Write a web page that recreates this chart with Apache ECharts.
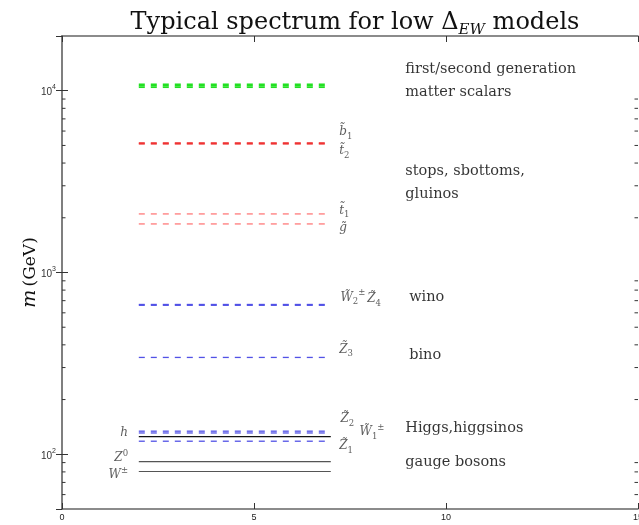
<!DOCTYPE html>
<html><head><meta charset="utf-8">
<script src="https://cdn.jsdelivr.net/npm/echarts@6/dist/echarts.min.js"></script>
<style>html,body{margin:0;padding:0;background:#fff}#c{width:639px;height:525px}</style>
</head><body><div id="c"></div>
<script>
// ---- data ----
const levelStart = 2, levelEnd = 7;
const greenLevels = [10450, 10650, 10850];      // first/second generation scalars
const redLevels = [5100, 5160];                  // b1, t2
const pinkLevels = [2100, 1850];                 // t1, gluino
const blueLevels = [667, 660, 341, 134, 131, 118]; // W2/Z4, Z3, Z2, W1, Z1
const higgsLevels = [125];                       // h
const gaugeLevels = [91.2, 80.4];                // Z0, W
const xTicks = [0, 5, 10, 15];
const yMajorTicks = [100, 1000, 10000];
const yMinorTicks = [60, 70, 80, 90, 200, 300, 400, 500, 600, 700, 800, 900,
  2000, 3000, 4000, 5000, 6000, 7000, 8000, 9000];
const particleLabels = [
  [7.22, 5940, '{i|b̃}{sb|1}'],
  [7.22, 4650, '{i|t̃}{sb|2}'],
  [7.22, 2190, '{i|t̃}{sb|1}'],
  [7.22, 1760, '{i|g̃}'],
  [7.25, 728, '{i|W̃}{sb|2}{sp|±}'],
  [7.95, 712, '{i|Z̃}{sb|4}'],
  [7.22, 377, '{i|Z̃}{sb|3}'],
  [7.25, 156, '{i|Z̃}{sb|2}'],
  [7.75, 132, '{i|W̃}{sb|1}{sp|±}'],
  [7.22, 111, '{i|Z̃}{sb|1}']
];
const leftLabels = [
  [1.72, 131, '{i|h}'],
  [1.72, 95, '{i|Z}{sp|0}'],
  [1.72, 77, '{i|W}{sp|±}']
];
const groupLabels = [
  [8.94, 11400, 'first/second generation\nmatter scalars'],
  [8.94, 3120, 'stops, sbottoms,\ngluinos'],
  [9.04, 730, 'wino'],
  [9.04, 352, 'bino'],
  [8.94, 139, 'Higgs,higgsinos'],
  [8.94, 90, 'gauge bosons']
];

// ---- chart ----
const SERIF = 'DejaVu Serif';
function levelSeries(values, color, width, dashed) {
  return values.map(v => ({
    type: 'line', silent: true, showSymbol: false, symbol: 'none',
    data: [[levelStart, v], [levelEnd, v]],
    lineStyle: { color: color, width: width, type: dashed ? [6, 6] : 'solid' },
    z: 3
  }));
}
const richP = {
  i: { fontFamily: SERIF, fontStyle: 'italic', fontSize: 12, lineHeight: 18, color: '#333', verticalAlign: 'middle' },
  sb: { fontFamily: SERIF, fontSize: 8.5, lineHeight: 18, color: '#333', verticalAlign: 'bottom' },
  sp: { fontFamily: SERIF, fontSize: 8.5, lineHeight: 18, color: '#333', verticalAlign: 'top' }
};
const series = [].concat(
  levelSeries(greenLevels, '#22e022', 1.6, true),
  levelSeries(redLevels, '#ee2626', 1.4, true),
  levelSeries(pinkLevels, '#ff7a7a', 1.3, true),
  levelSeries(blueLevels, '#5252e6', 1.3, true),
  levelSeries(higgsLevels, '#111', 1.2, false),
  levelSeries(gaugeLevels, '#555', 1.2, false),
  [{
    type: 'scatter', silent: true, symbolSize: 0, data: particleLabels,
    label: { show: true, position: 'right', distance: 0, formatter: p => p.data[2], rich: richP }
  }, {
    type: 'scatter', silent: true, symbolSize: 0, data: leftLabels,
    label: { show: true, position: 'left', distance: 0, formatter: p => p.data[2], rich: richP }
  }, {
    type: 'scatter', silent: true, symbolSize: 0, data: groupLabels,
    label: { show: true, position: 'right', distance: 0, formatter: p => p.data[2],
      fontFamily: SERIF, fontSize: 14.5, lineHeight: 23, color: '#000' }
  }, {
    type: 'custom', silent: true, data: yMinorTicks.map(v => [0, v]),
    encode: { x: 0, y: 1 }, clip: false,
    renderItem: (params, api) => {
      const v = api.value(1);
      const l = api.coord([0, v]);
      const r = api.coord([15, v]);
      return { type: 'group', children: [
        { type: 'line', shape: { x1: l[0], y1: l[1], x2: l[0] + 3.5, y2: l[1] }, style: { stroke: '#333', lineWidth: 1 } },
        { type: 'line', shape: { x1: r[0], y1: r[1], x2: r[0] - 3.5, y2: r[1] }, style: { stroke: '#333', lineWidth: 1 } }
      ] };
    }
  }]
);
const yCommon = {
  type: 'log', logBase: 10, min: 50, max: 20000,
  splitLine: { show: false },
  axisLine: { show: true, lineStyle: { color: '#777', width: 1.5 } },
  axisTick: { show: true, inside: true, length: 6, lineStyle: { color: '#333' } }
};
const xCommon = {
  type: 'value', min: xTicks[0], max: xTicks[xTicks.length - 1], interval: 5,
  splitLine: { show: false },
  axisLine: { show: true, onZero: false, lineStyle: { color: '#666', width: 1.5 } },
  axisTick: { show: true, inside: true, length: 6, lineStyle: { color: '#333' } }
};
const chart = echarts.init(document.getElementById('c'), null, { renderer: 'canvas' });
chart.setOption({
  animation: false,
  backgroundColor: '#fff',
  title: {
    text: '{a|Typical spectrum for low Δ}{s|EW}{a| models}',
    left: 350, textAlign: 'center', top: 3,
    textStyle: { fontWeight: 'normal', rich: {
      a: { fontFamily: SERIF, fontWeight: 'normal', fontSize: 24, color: '#111', lineHeight: 30, verticalAlign: 'middle' },
      s: { fontFamily: SERIF, fontWeight: 'normal', fontStyle: 'italic', fontSize: 15, color: '#111', lineHeight: 30, verticalAlign: 'bottom' }
    } }
  },
  grid: { left: 62, right: 1, top: 36, bottom: 16, outerBoundsMode: 'none', containLabel: false },
  xAxis: [
    Object.assign({}, xCommon, { position: 'bottom',
      axisLabel: { show: true, margin: 4, fontSize: 9, color: '#222', fontFamily: 'Liberation Sans' } }),
    Object.assign({}, xCommon, { position: 'top', axisLabel: { show: false } })
  ],
  yAxis: [
    Object.assign({}, yCommon, { position: 'left',
      name: '{i|m} {r|(GeV)}', nameLocation: 'middle', nameGap: 22, nameRotate: 90, nameMoveOverlap: false,
      nameTextStyle: { rich: {
        i: { fontFamily: SERIF, fontStyle: 'italic', fontSize: 19, color: '#111' },
        r: { fontFamily: SERIF, fontSize: 17, color: '#111' }
      } },
      axisLabel: {
        show: true, margin: 6, showMinLabel: false, showMaxLabel: false,
        formatter: v => {
          const e = Math.round(Math.log10(v));
          return yMajorTicks.indexOf(Math.pow(10, e)) >= 0 && Math.abs(v - Math.pow(10, e)) < 1e-6 ? '{b|10}{e|' + e + '}' : '';
        },
        rich: {
          b: { fontFamily: 'Liberation Sans', fontSize: 10, color: '#333', lineHeight: 14, verticalAlign: 'bottom' },
          e: { fontFamily: 'Liberation Sans', fontSize: 7, color: '#333', lineHeight: 14, verticalAlign: 'top' }
        }
      } }),
    Object.assign({}, yCommon, { position: 'right', axisLabel: { show: false } })
  ],
  series: series
});
</script>
</body></html>
